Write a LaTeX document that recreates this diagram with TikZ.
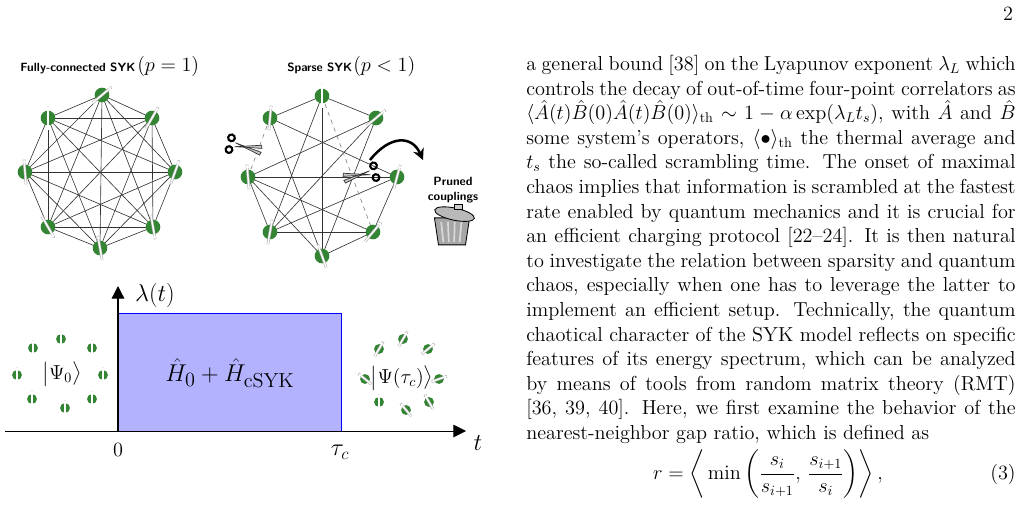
\documentclass[tikz,border=0pt]{standalone}
\usepackage{amsmath,amssymb}
\usepackage{tikz}
\usetikzlibrary{arrows.meta}

% spin: green ball with a white arrow through it
\newcommand{\spinat}[4]{%
  \fill[green!40!black!80] (#1,#2) circle (#4);
  \draw[gray!60, line width=1.9pt] ([shift={(#3+180:#4*1.7)}]#1,#2) -- ([shift={(#3:#4*1.7)}]#1,#2);
  \draw[white, line width=1pt, -{Stealth[length=2.5pt,width=3pt]}] ([shift={(#3+180:#4*1.7)}]#1,#2) -- ([shift={(#3:#4*1.7)}]#1,#2);
}
% scissors
\newcommand{\scissorsat}[3]{%
  \begin{scope}[shift={(#1,#2)}, rotate=#3]
    \fill[gray!45, draw=black!80, line width=0.5pt] (-6,-2) -- (20,5) -- (21,2) -- (0,-1) -- cycle;
    \fill[gray!45, draw=black!80, line width=0.5pt] (-6,2) -- (20,-5) -- (21,-2) -- (0,1) -- cycle;
    \draw[line width=1.5pt] (-11,-6) circle (2.4pt) (-11,6) circle (2.4pt);
  \end{scope}
}

\begin{document}
\begin{tikzpicture}[x=0.025cm, y=-0.025cm,
    edge/.style={black!80, line width=0.45pt},
    cut/.style={gray, dashed, line width=0.45pt},
    lbl/.style={font=\sffamily\bfseries\fontsize{8.5}{10}\selectfont, inner sep=0pt}]
    \useasboundingbox (0,0) rectangle (1023,505);

    % page number
    \node (pg) at (1008,14) {\fontsize{14.4}{17}\selectfont 2};

    % fully connected graph
    \coordinate (f1) at (102,95);  \coordinate (f2) at (152,118);
    \coordinate (f3) at (175,172); \coordinate (f4) at (153,227);
    \coordinate (f5) at (100,248); \coordinate (f6) at (48,227);
    \coordinate (f7) at (25,172);  \coordinate (f8) at (48,118);
    \foreach \i in {1,...,8}
      \foreach \j in {1,...,8}
        {\ifnum\i<\j \draw[edge] (f\i) -- (f\j); \fi}
    \spinat{102}{95}{40}{5.2pt}  \spinat{152}{118}{60}{5.2pt}
    \spinat{175}{172}{70}{5.2pt} \spinat{153}{227}{-80}{5.2pt}
    \spinat{100}{248}{100}{5.2pt} \spinat{48}{227}{-60}{5.2pt}
    \spinat{25}{172}{95}{5.2pt}  \spinat{48}{118}{90}{5.2pt}
    \node[lbl, anchor=west] (ft) at (20,68) {Fully-connected SYK};
    \node[anchor=west, inner sep=0pt] (fp) at (137,66) {\fontsize{13.5}{15}\selectfont$(p=1)$};

    % sparse graph
    \coordinate (s1) at (322,96);  \coordinate (s2) at (376,118);
    \coordinate (s3) at (397,177); \coordinate (s4) at (373,232);
    \coordinate (s5) at (322,256); \coordinate (s6) at (270,232);
    \coordinate (s7) at (248,177); \coordinate (s8) at (270,118);
    \foreach \a/\b in {1/8,1/2,1/5,1/6,8/3,8/5,2/7,2/6,2/5,3/7,3/4,3/6,
                       7/6,7/4,7/5,6/4,4/5}
      \draw[edge] (s\a) -- (s\b);
    \draw[cut] (s8) -- (s7);
    \draw[cut] (s1) -- (s4);
    \spinat{322}{96}{90}{5.2pt}  \spinat{376}{118}{40}{5.2pt}
    \spinat{397}{177}{75}{5.2pt} \spinat{373}{232}{50}{5.2pt}
    \spinat{322}{256}{110}{5.2pt} \spinat{270}{232}{80}{5.2pt}
    \spinat{248}{177}{95}{5.2pt} \spinat{270}{118}{85}{5.2pt}
    \node[lbl, anchor=west] (st) at (287,68) {Sparse SYK};
    \node[anchor=west, inner sep=0pt] (sp) at (353,66) {\fontsize{13.5}{15}\selectfont$(p<1)$};

    \scissorsat{241}{146}{-12}
    \scissorsat{364}{174}{192}

    % pruned couplings
    \coordinate (ca) at (370,160);
    \coordinate (cb) at (423,160);
    \draw[line width=1.8pt, -{Stealth[length=8pt,width=8pt]}] (ca) .. controls (390,135) and (412,135) .. (cb);
    \node[lbl, align=center] (pc) at (453,190) {Pruned\\[1pt]couplings};
    \begin{scope}[shift={(452,226)}, scale=1.35]
      \fill[gray!70, draw=black, line width=0.6pt] (-13,-6) -- (13,-6) -- (10,14) -- (-10,14) -- cycle;
      \foreach \u in {-8,-3,2,7} \draw[gray!30, line width=1.2pt] (\u,-3) -- (\u*0.8,12);
      \fill[gray!55, draw=black, line width=0.6pt, rotate=-12] (0,-9) ellipse (15 and 4.5);
      \fill[gray!40, draw=black, line width=0.5pt] (2,-16) rectangle (8,-12);
    \end{scope}

    % protocol
    \coordinate (o) at (118,431);
    \coordinate (tl) at (5,431);
    \coordinate (te) at (466,431);
    \coordinate (ye) at (118,286);
    \fill[blue!30, draw=blue, line width=0.5pt] (118,313) rectangle (341,431);
    \draw[line width=0.7pt, -{Triangle[length=9pt,width=9pt]}] (tl) -- (te);
    \draw[line width=0.9pt, -{Triangle[length=9pt,width=9pt]}] (o) -- (ye);
    \node (lam) at (155,295) {\fontsize{17}{20}\selectfont$\lambda(t)$};
    \node (zero) at (118,450) {\fontsize{14}{17}\selectfont$0$};
    \node (tc) at (340,452) {\fontsize{18}{20}\selectfont$\tau_c$};
    \node (tt) at (478,443) {\fontsize{18}{20}\selectfont$t$};
    \node (ham) at (230,373) {\fontsize{19}{22}\selectfont$\hat H_0+\hat H_{\mathrm{cSYK}}$};

    \foreach \x/\y in {61/339,92/348,103/375,92/399,65/408,32/399,17/375,33/348}
      {\spinat{\x}{\y}{90}{3.5pt}}
    \node (psi0) at (62,374) {\fontsize{14}{17}\selectfont$\big|\Psi_0\big\rangle$};
    \foreach \x/\y/\r in {403/339/60,428/349/40,439/379/20,429/402/120,406/410/130,379/402/90,365/379/140,379/349/60}
      {\spinat{\x}{\y}{\r}{3.5pt}}
    \node (psit) at (402,378) {\fontsize{14}{17}\selectfont$\big|\Psi(\tau_c)\big\rangle$};

    % text column
    \node[anchor=north west, inner sep=0pt] (col) at (526,55) {\parbox{348pt}{\fontsize{14.4}{17.5}\selectfont
      a general bound [38] on the Lyapunov exponent $\lambda_L$ which\linebreak{}
      controls the decay of out-of-time four-point correlators as\linebreak{}
      $\langle\hat A(t)\hat B(0)\hat A(t)\hat B(0)\rangle_{\mathrm{th}}\sim 1-\alpha\exp(\lambda_L t_s)$, with $\hat A$ and $\hat B$\linebreak{}
      some system's operators, $\langle\bullet\rangle_{\mathrm{th}}$ the thermal average and\linebreak{}
      $t_s$ the so-called scrambling time. The onset of maximal\linebreak{}
      chaos implies that information is scrambled at the fastest\linebreak{}
      rate enabled by quantum mechanics and it is crucial for\linebreak{}
      an efficient charging protocol [22--24]. It is then natural\linebreak{}
      to investigate the relation between sparsity and quantum\linebreak{}
      chaos, especially when one has to leverage the latter to\linebreak{}
      implement an efficient setup. Technically, the quantum\linebreak{}
      chaotical character of the SYK model reflects on specific\linebreak{}
      features of its energy spectrum, which can be analyzed\linebreak{}
      by means of tools from random matrix theory (RMT)\linebreak{}
      [36, 39, 40]. Here, we first examine the behavior of the\linebreak{}
      nearest-neighbor gap ratio, which is defined as}};
    \node (eq) at (768,474) {\fontsize{14.4}{17.5}\selectfont
      $r=\displaystyle\left\langle\,\min\left(\frac{s_i}{s_{i+1}},\,\frac{s_{i+1}}{s_i}\right)\right\rangle,$};
    \node (eqn) at (1003,474) {\fontsize{14.4}{17.5}\selectfont(3)};
\end{tikzpicture}
\end{document}
